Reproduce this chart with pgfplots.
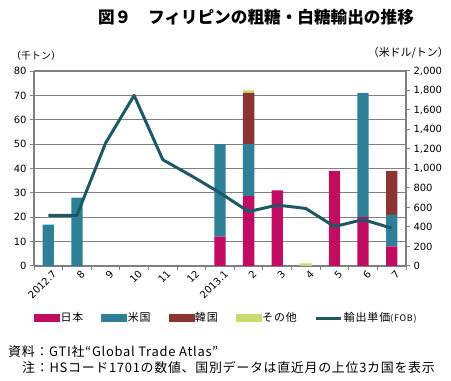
\documentclass[border=0pt]{standalone}
\usepackage{fontspec}
\setmainfont{Noto Sans CJK JP}
\newfontfamily\tickfont{DejaVu Sans}
\newfontfamily\notefont[LetterSpace=5.5]{Noto Sans CJK JP}
\newfontfamily\legfont[LetterSpace=8]{Noto Sans CJK JP}
\usepackage{pgfplots}
\usepackage{pgfplotstable}
\pgfplotsset{compat=1.18}
\definecolor{jp}{RGB}{192,13,98}
\definecolor{us}{RGB}{46,128,152}
\definecolor{kr}{RGB}{140,52,52}
\definecolor{ot}{RGB}{200,220,110}
\definecolor{ln}{RGB}{30,88,102}
\definecolor{gr}{RGB}{128,128,128}
\pgfplotstableread{
idx jp us kr ot price
0 0 17 0 0 520
1 0 28 0 0 520
2 0 0 0 0 1260
3 0 0 0 0 1750
4 0 0 0 0 1090
5 0 0 0 0 925
6 12 38 0 0 750
7 28.7 21.3 21 1.1 558
8 31 0 0 0 625
9 0 0 0 1.1 590
10 39 0 0 0 404
11 20 51 0 0 476
12 8 13 18 0 388
}\data
\begin{document}
\begin{tikzpicture}
\useasboundingbox (0,0) rectangle (451bp,381bp);
\pgfplotsset{
  common/.style={
    at={(34bp,115bp)}, anchor=south west, scale only axis,
    width=372bp, height=195bp, xmin=-0.5, xmax=12.5,
    /pgf/number format/assume math mode=true,
    ticklabel style={font=\tickfont\fontsize{10}{12}\selectfont, text=black},
    axis line style={gr, line width=1.2bp},
    tick style={gr, line width=1bp},
    major tick length=4bp, tick align=outside,
  }
}
\begin{axis}[common,
  ymin=0, ymax=80, ytick={0,10,...,80},
  axis y line*=left, axis x line*=bottom,
  ymajorgrids, grid style={gr, line width=1.2bp},
  xtick={-0.5,0.5,...,12.5},
  xticklabels={2012.7,8,9,10,11,12,2013.1,2,3,4,5,6,7},
  x tick label as interval,
  xticklabel style={rotate=45, anchor=north east, xshift=4bp, yshift=-1bp, inner sep=1bp},
  ybar stacked, bar width=11.3bp,
]
\addplot[fill=jp, draw=none] table[x=idx, y=jp] {\data};
\addplot[fill=us, draw=none] table[x=idx, y=us] {\data};
\addplot[fill=kr, draw=none] table[x=idx, y=kr] {\data};
\addplot[fill=ot, draw=none] table[x=idx, y=ot] {\data};
\end{axis}
\begin{axis}[common,
  ymin=0, ymax=2000, ytick={0,200,...,2000},
  axis y line*=right, axis x line=none,
  /pgf/number format/1000 sep={,},
  legend style={at={(axis description cs:0,-0.267)}, anchor=west, draw=none, fill=none,
    inner sep=0pt, legend columns=5,
    font=\legfont\fontsize{11}{13}\selectfont,
    nodes={inner sep=1bp},
    /tikz/every even column/.append style={column sep=17bp}},
]
\addlegendimage{legend image code/.code={\fill[jp] (0bp,-3.5bp) rectangle (25bp,3.5bp);}}
\addlegendentry{日本}
\addlegendimage{legend image code/.code={\fill[us] (0bp,-3.5bp) rectangle (25bp,3.5bp);}}
\addlegendentry{米国}
\addlegendimage{legend image code/.code={\fill[kr] (0bp,-3.5bp) rectangle (25bp,3.5bp);}}
\addlegendentry{韓国}
\addlegendimage{legend image code/.code={\fill[ot] (0bp,-3.5bp) rectangle (25bp,3.5bp);}}
\addlegendentry{その他}
\addplot[ln, line width=3bp, line join=round, mark=none,
  legend image code/.code={\draw[ln, line width=3bp] (0bp,0bp) -- (25bp,0bp);}]
  table[x=idx, y=price] {\data};
\addlegendentry{輸出単価\fontsize{9}{10}\selectfont(FOB)}
\end{axis}
\node[font=\bfseries\fontsize{16.7}{19}\selectfont] at (256bp,364bp) {図９　フィリピンの粗糖・白糖輸出の推移};
\node[anchor=west, inner sep=0pt, font=\fontsize{10}{12}\selectfont] at (11bp,325bp) {（千トン）};
\node[anchor=east, inner sep=0pt, font=\fontsize{11}{13}\selectfont] at (449bp,328bp) {（米ドル/トン）};
\node[anchor=west, inner sep=0pt, font=\notefont\fontsize{13}{15}\selectfont] at (8bp,29bp) {資料：GTI社“Global Trade Atlas”};
\node[anchor=west, inner sep=0pt, font=\notefont\fontsize{13}{15}\selectfont] at (22bp,13bp) {注：HSコード1701の数値、国別データは直近月の上位3カ国を表示};
\end{tikzpicture}
\end{document}
